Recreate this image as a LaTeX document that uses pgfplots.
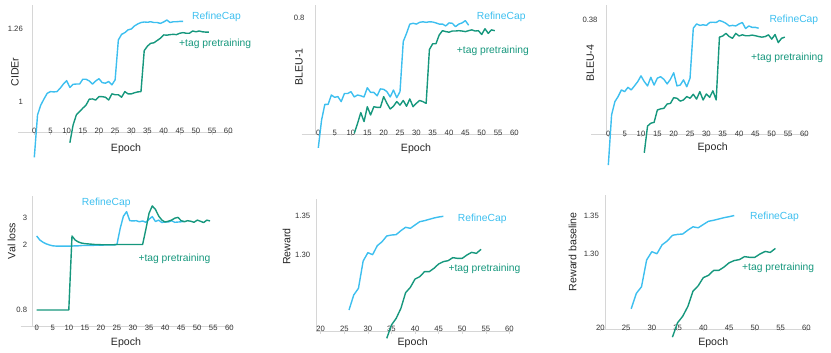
\documentclass[border=0pt]{standalone}
\usepackage{fontspec}
\setmainfont{Liberation Sans}
\usepackage{pgfplots}
\pgfplotsset{compat=1.18}

\definecolor{refblue}{HTML}{3DBFEF}
\definecolor{tagteal}{HTML}{16977D}
\definecolor{axisgray}{HTML}{D6D6D6}
\definecolor{ticktext}{HTML}{333333}

\pgfplotsset{
  panel/.style={
    scale only axis, anchor=south west, clip=false,
    axis lines*=left, axis line style={draw=none},
    ytick style={draw=none},
    xtick style={draw=axisgray, line width=0.5pt},
    major tick length=2pt, tick align=outside,
    /pgf/number format/assume math mode=true,
    ticklabel style={font=\fontsize{7.7}{8}\selectfont, text=ticktext, inner sep=0pt},
    xticklabel style={anchor=base, yshift=0.5pt},
    yticklabel style={anchor=east},
    xtick={0,5,...,60},
  },
  blueline/.style={color=refblue, line width=1.4pt, line join=round, mark=none},
  tealline/.style={color=tagteal, line width=1.4pt, line join=round, mark=none},
}
\tikzset{
  lab/.style={font=\fontsize{10.6}{12}\selectfont, text=black!85},
  serlab/.style={font=\fontsize{10.3}{12}\selectfont, anchor=west, inner sep=0pt},
  axl/.style={draw=axisgray, line width=0.7pt},
}

\begin{document}
\begin{tikzpicture}
\begin{scope}[x=1pt, y=1pt]
\useasboundingbox (0,0) rectangle (831,353);
% axis lines
\draw[axl] (32.3,220.3) -- (32.3,348);  \draw[axl] (18.3,220.3) -- (233,220.3);
\draw[axl] (315,219) -- (315,348);      \draw[axl] (301.7,219) -- (517,219);
\draw[axl] (606.3,218.3) -- (606.3,348); \draw[axl] (591,218.3) -- (807.7,218.3);
\draw[axl] (32.3,26.3) -- (32.3,157);   \draw[axl] (20.7,26.3) -- (233,26.3);
\draw[axl] (316,21.3) -- (316,153.7);   \draw[axl] (316,21.3) -- (513,21.3);
\draw[axl] (605.3,24) -- (605.3,158);   \draw[axl] (598,24) -- (811,24);
% axis titles
\node[lab, rotate=90] at (15,281) {CIDEr};
\node[lab] at (126,204) {Epoch};
\node[lab, rotate=90] at (299,286.3) {BLEU-1};
\node[lab] at (416,204) {Epoch};
\node[lab, rotate=90] at (590.3,289.7) {BLEU-4};
\node[lab] at (712.7,205.3) {Epoch};
\node[lab, rotate=90] at (11.7,112) {Val loss};
\node[lab] at (126,10.7) {Epoch};
\node[lab, rotate=90] at (286.7,106.3) {Reward};
\node[lab] at (412.7,10.3) {Epoch};
\node[lab, rotate=90] at (572.7,101.3) {Reward baseline};
\node[lab] at (713.3,10.7) {Epoch};
% series labels
\node[serlab, text=refblue] at (192,335.7) {RefineCap};
\node[serlab, text=tagteal] at (179,309) {+tag pretraining};
\node[serlab, text=refblue] at (476.7,335.7) {RefineCap};
\node[serlab, text=tagteal] at (456.7,302) {+tag pretraining};
\node[serlab, text=refblue] at (769.3,333) {RefineCap};
\node[serlab, text=tagteal] at (751,294.7) {+tag pretraining};
\node[serlab, text=refblue] at (81.7,149.7) {RefineCap};
\node[serlab, text=tagteal] at (138.3,94) {+tag pretraining};
\node[serlab, text=refblue] at (457.7,134) {RefineCap};
\node[serlab, text=tagteal] at (448.3,84) {+tag pretraining};
\node[serlab, text=refblue] at (750,135.7) {RefineCap};
\node[serlab, text=tagteal] at (742,84.7) {+tag pretraining};
\end{scope}

% CIDEr
\begin{axis}[panel, at={(18.3pt,220.3pt)}, width=214.7pt, height=127.7pt,
  xmin=-4.95, xmax=61.46, ymin=0.8917, ymax=1.3465,
  ytick={1,1.26}, yticklabels={1,1.26}, yticklabel style={xshift=6.7pt},
  xticklabel style={yshift=0.5pt}]
\addplot[blueline] coordinates {(0,0.804)(1,0.955)(2,0.99)(3,1.012)(4,1.032)(5,1.038)(6,1.037)(7,1.038)(8,1.05)(9,1.065)(10,1.077)(11,1.053)(12,1.064)(13,1.065)(14,1.065)(15,1.082)(16,1.082)(17,1.076)(18,1.065)(19,1.076)(20,1.084)(21,1.07)(22,1.068)(23,1.074)(24,1.062)(25,1.08)(26,1.222)(27,1.242)(28,1.248)(29,1.258)(30,1.261)(31,1.272)(32,1.279)(33,1.284)(34,1.286)(35,1.285)(36,1.287)(37,1.284)(38,1.284)(39,1.281)(40,1.286)(41,1.293)(42,1.284)(43,1.287)(44,1.287)(45,1.288)(46,1.288)};
\addplot[tealline] coordinates {(11,0.856)(12,0.919)(13,0.955)(14,0.967)(15,0.979)(16,0.99)(17,1.011)(18,1.012)(19,1.008)(20,1.02)(21,1.02)(22,1.018)(23,1.008)(24,1.03)(25,1.027)(26,1.027)(27,1.018)(28,1.038)(29,1.03)(30,1.03)(31,1.034)(32,1.037)(33,1.038)(34,1.184)(35,1.2)(36,1.21)(37,1.212)(38,1.22)(39,1.228)(40,1.24)(41,1.239)(42,1.241)(43,1.242)(44,1.241)(45,1.246)(46,1.248)(47,1.246)(48,1.246)(49,1.254)(50,1.251)(51,1.254)(52,1.251)(53,1.25)(54,1.25)};
\end{axis}

% BLEU-1
\begin{axis}[panel, at={(301.7pt,219pt)}, width=215.3pt, height=129pt,
  xmin=-5.08, xmax=60.8, ymin=0.7, ymax=0.8115,
  ytick={0.8}, yticklabels={0.8}, yticklabel style={xshift=5pt}]
\addplot[blueline] coordinates {(0,0.688)(1,0.712)(2,0.7256)(3,0.7256)(4,0.7337)(5,0.7317)(6,0.7323)(7,0.728)(8,0.735)(9,0.735)(10,0.7366)(11,0.732)(12,0.7337)(13,0.733)(14,0.732)(15,0.740)(16,0.736)(17,0.736)(18,0.733)(19,0.739)(20,0.7386)(21,0.7366)(22,0.732)(23,0.738)(24,0.7314)(25,0.7366)(26,0.78)(27,0.787)(28,0.795)(29,0.7957)(30,0.795)(31,0.7965)(32,0.797)(33,0.7965)(34,0.797)(35,0.7968)(36,0.796)(37,0.795)(38,0.795)(39,0.7934)(40,0.796)(41,0.7957)(42,0.7928)(43,0.795)(44,0.796)(45,0.798)(46,0.794)};
\addplot[tealline] coordinates {(11,0.7006)(12,0.709)(13,0.7185)(14,0.7107)(15,0.7236)(16,0.7164)(17,0.7236)(18,0.723)(19,0.723)(20,0.7323)(21,0.7265)(22,0.7216)(23,0.724)(24,0.728)(25,0.725)(26,0.729)(27,0.724)(28,0.7303)(29,0.7236)(30,0.7265)(31,0.729)(32,0.728)(33,0.7265)(34,0.773)(35,0.778)(36,0.778)(37,0.7856)(38,0.7893)(39,0.7885)(40,0.788)(41,0.789)(42,0.789)(43,0.7893)(44,0.789)(45,0.7885)(46,0.7893)(47,0.79)(48,0.789)(49,0.7893)(50,0.786)(51,0.791)(52,0.787)(53,0.79)(54,0.7893)};
\end{axis}

% BLEU-4
\begin{axis}[panel, at={(591pt,218.3pt)}, width=216.7pt, height=129.7pt,
  xmin=-5.3, xmax=61.0, ymin=0.34, ymax=0.3852,
  ytick={0.38}, yticklabels={0.38}, yticklabel style={xshift=8.7pt}]
\addplot[blueline] coordinates {(0,0.3294)(1,0.3469)(2,0.3515)(3,0.3533)(4,0.3556)(5,0.355)(6,0.3565)(7,0.3556)(8,0.357)(9,0.3585)(10,0.3605)(11,0.3585)(12,0.357)(13,0.36)(14,0.3573)(15,0.3597)(16,0.3602)(17,0.3593)(18,0.3577)(19,0.3593)(20,0.3616)(21,0.357)(22,0.3573)(23,0.3591)(24,0.3567)(25,0.3597)(26,0.3771)(27,0.3786)(28,0.3781)(29,0.3783)(30,0.3781)(31,0.3791)(32,0.3792)(33,0.3791)(34,0.3798)(35,0.3794)(36,0.3788)(37,0.3779)(38,0.3781)(39,0.3779)(40,0.3786)(41,0.3791)(42,0.377)(43,0.3779)(44,0.3774)(45,0.3774)(46,0.3771)};
\addplot[tealline] coordinates {(11,0.3337)(12,0.343)(13,0.344)(14,0.3443)(15,0.3486)(16,0.349)(17,0.3492)(18,0.3507)(19,0.3509)(20,0.3529)(21,0.3527)(22,0.3517)(23,0.3521)(24,0.3533)(25,0.3527)(26,0.3541)(27,0.3524)(28,0.355)(29,0.3521)(30,0.3542)(31,0.353)(32,0.3553)(33,0.3521)(34,0.374)(35,0.3744)(36,0.3753)(37,0.3742)(38,0.3736)(39,0.3753)(40,0.3744)(41,0.3748)(42,0.3745)(43,0.3745)(44,0.3747)(45,0.3745)(46,0.3742)(47,0.374)(48,0.3742)(49,0.3748)(50,0.3733)(51,0.3749)(52,0.3721)(53,0.3736)(54,0.374)};
\end{axis}

% Val loss (axis compressed below 2, as in the original)
\begin{axis}[panel, at={(20.7pt,26.3pt)}, width=212.3pt, height=130.7pt,
  y coord trafo/.code={\pgfmathparse{#1>=2 ? #1 : 2-(2-#1)*1.9817}},
  y coord inv trafo/.code={\pgfmathparse{#1>=2 ? #1 : 2-(2-#1)/1.9817}},
  xmin=-4.98, xmax=61.15, ymin=0.4917, ymax=3.793,
  ytick={0.8,2,3}, yticklabels={0.8,2,3}, yticklabel style={xshift=8.6pt},
  xticklabel style={yshift=-2pt}]
\addplot[blueline] coordinates {(0,2.33)(1,2.18)(2,2.10)(3,2.04)(4,2.0)(5,1.985)(6,1.98)(7,1.98)(8,1.98)(9,1.98)(10,1.98)(11,1.98)(12,1.985)(13,1.985)(14,1.99)(15,1.99)(16,1.99)(17,1.99)(18,1.995)(19,1.995)(20,1.995)(21,2.0)(22,2.0)(23,2.0)(24,2.0)(25,2.02)(26,2.6)(27,3.05)(28,3.22)(29,2.89)(30,2.88)(31,2.89)(32,2.85)(33,2.88)(34,2.83)(35,2.94)(36,3.04)(37,2.86)(38,2.91)(39,2.82)(40,2.85)(41,2.84)(42,2.89)(43,2.83)(44,2.84)(45,2.85)(46,2.87)};
\addplot[tealline] coordinates {(0,0.8)(1,0.8)(2,0.8)(3,0.8)(4,0.8)(5,0.8)(6,0.8)(7,0.8)(8,0.8)(9,0.8)(10,0.8)(11,2.33)(12,2.18)(13,2.11)(14,2.07)(15,2.05)(16,2.04)(17,2.03)(18,2.02)(19,2.02)(20,2.01)(21,2.01)(22,2.01)(23,2.01)(24,2.01)(25,2.02)(26,2.02)(27,2.02)(28,2.02)(29,2.02)(30,2.02)(31,2.02)(32,2.02)(33,2.02)(34,2.57)(35,3.16)(36,3.43)(37,3.3)(38,3.06)(39,2.91)(40,2.84)(41,2.87)(42,2.91)(43,2.98)(44,3.01)(45,2.89)(46,2.85)(47,2.89)(48,2.87)(49,2.83)(50,2.91)(51,2.87)(52,2.82)(53,2.91)(54,2.88)};
\end{axis}

% Reward
\begin{axis}[panel, at={(316pt,21.3pt)}, width=197pt, height=132.4pt,
  xmin=19.0, xmax=60.77, ymin=1.2017, ymax=1.3714, xtick={20,25,...,60},
  ytick={1.30,1.35}, yticklabels={1.30,1.35}, yticklabel style={xshift=-3.7pt},
  xticklabel style={yshift=1.5pt}]
\addplot[blueline] coordinates {(26,1.2295)(27,1.2487)(28,1.2573)(29,1.2923)(30,1.303)(31,1.3004)(32,1.312)(33,1.317)(34,1.3244)(35,1.3256)(36,1.3261)(37,1.3312)(38,1.3355)(39,1.3342)(40,1.3385)(41,1.3427)(42,1.344)(43,1.3457)(44,1.3474)(45,1.3487)(46,1.3496)};
\addplot[tealline] coordinates {(34,1.1932)(35,1.2103)(36,1.2188)(37,1.2316)(38,1.2517)(39,1.2585)(40,1.2692)(41,1.2722)(42,1.2786)(43,1.2786)(44,1.2829)(45,1.2885)(46,1.2915)(47,1.2927)(48,1.2966)(49,1.2957)(50,1.2957)(51,1.3)(52,1.3034)(53,1.3021)(54,1.3073)};
\end{axis}

% Reward baseline
\begin{axis}[panel, at={(595.2pt,24pt)}, width=215.8pt, height=134pt,
  xmin=19.01, xmax=60.91, ymin=1.2022, ymax=1.377, xtick={20,25,...,60},
  ytick={1.30,1.35}, yticklabels={1.30,1.35}, yticklabel style={xshift=5.8pt}]
\addplot[blueline] coordinates {(26,1.2285)(27,1.2487)(28,1.2573)(29,1.2923)(30,1.303)(31,1.3004)(32,1.312)(33,1.317)(34,1.3244)(35,1.3256)(36,1.3261)(37,1.3312)(38,1.3355)(39,1.3342)(40,1.3385)(41,1.3427)(42,1.344)(43,1.3457)(44,1.3474)(45,1.3487)(46,1.3502)};
\addplot[tealline] coordinates {(34,1.1915)(35,1.2103)(36,1.2188)(37,1.2316)(38,1.2517)(39,1.2585)(40,1.2692)(41,1.2722)(42,1.2786)(43,1.2786)(44,1.2829)(45,1.2885)(46,1.2915)(47,1.2927)(48,1.2966)(49,1.2957)(50,1.2957)(51,1.3)(52,1.3034)(53,1.3021)(54,1.3073)};
\end{axis}
\end{tikzpicture}
\end{document}
